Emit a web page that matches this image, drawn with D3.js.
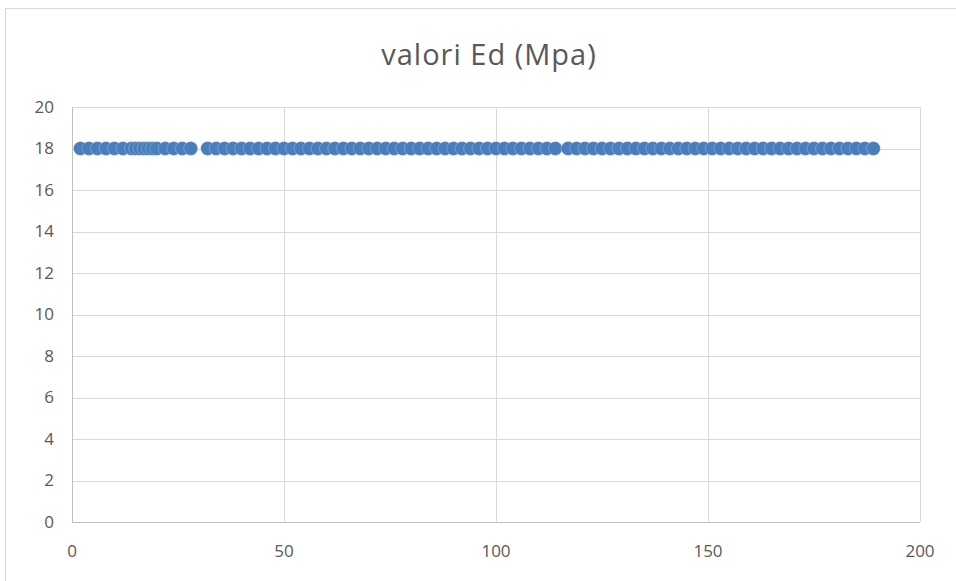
<!DOCTYPE html>
<html><head><meta charset="utf-8">
<script src="https://cdn.jsdelivr.net/npm/d3@7"></script>
<style>body{margin:0;background:#fff}svg{display:block}</style>
</head><body>
<svg id="c" width="956" height="581"></svg>
<script>
const title = "valori Ed (Mpa)";
const xValues = [2,4,6,8,10,12,14,15,16,17,18,19,20,22,24,26,28,
  32,34,36,38,40,42,44,46,48,50,52,54,56,58,60,62,64,66,68,70,72,74,76,78,80,82,84,86,88,90,92,94,96,98,100,102,104,106,108,110,112,114,
  117,119,121,123,125,127,129,131,133,135,137,139,141,143,145,147,149,151,153,155,157,159,161,163,165,167,169,171,173,175,177,179,181,183,185,187,189];
const yValues = xValues.map(() => 18);
const xTicks = [0,50,100,150,200];
const yTicks = [0,2,4,6,8,10,12,14,16,18,20];

const svg = d3.select("#c");
const font = "'Open Sans', 'Liberation Sans', sans-serif";
svg.append("path").attr("d","M5.5,581 V8.5 H956").attr("fill","none").attr("stroke","#d9d9d9").attr("stroke-width",1);

const x = d3.scaleLinear().domain([0,200]).range([72,920]);
const y = d3.scaleLinear().domain([0,20]).range([522,107]);

svg.append("text").attr("x",489).attr("y",55).attr("dy","0.35em").attr("text-anchor","middle")
  .attr("font-family",font).attr("font-size",29).attr("letter-spacing",1).attr("fill","#595959").text(title);

const g = svg.append("g");
g.selectAll(".hg").data(yTicks.filter(d=>d>0)).join("line")
  .attr("x1",x(0)).attr("x2",x(200)).attr("y1",d=>Math.round(y(d))+0.5).attr("y2",d=>Math.round(y(d))+0.5)
  .attr("stroke","#d9d9d9");
g.selectAll(".vg").data(xTicks.filter(d=>d>0)).join("line")
  .attr("y1",y(0)).attr("y2",y(20)).attr("x1",d=>Math.round(x(d))+0.5).attr("x2",d=>Math.round(x(d))+0.5)
  .attr("stroke","#d9d9d9");
g.append("line").attr("x1",Math.round(x(0))+0.5).attr("x2",Math.round(x(0))+0.5).attr("y1",y(0)).attr("y2",y(20)).attr("stroke","#bfbfbf");
g.append("line").attr("x1",x(0)).attr("x2",x(200)).attr("y1",Math.round(y(0))+0.5).attr("y2",Math.round(y(0))+0.5).attr("stroke","#bfbfbf");

g.selectAll(".yl").data(yTicks).join("text")
  .attr("x",54).attr("y",d=>y(d)).attr("dy","0.35em").attr("text-anchor","end")
  .attr("font-family",font).attr("font-size",17).attr("fill","#595959").text(d=>d);
g.selectAll(".xl").data(xTicks).join("text")
  .attr("x",d=>x(d)).attr("y",551).attr("dy","0.35em").attr("text-anchor","middle")
  .attr("font-family",font).attr("font-size",17).attr("fill","#595959").text(d=>d);

svg.append("g").selectAll("circle").data(xValues.map((v,i)=>[v,yValues[i]])).join("circle")
  .attr("cx",d=>x(d[0])).attr("cy",d=>y(d[1])).attr("r",7)
  .attr("fill","#4a7ebb").attr("stroke","#fff").attr("stroke-width",0.4).attr("stroke-opacity",0.6);
</script>
</body></html>
